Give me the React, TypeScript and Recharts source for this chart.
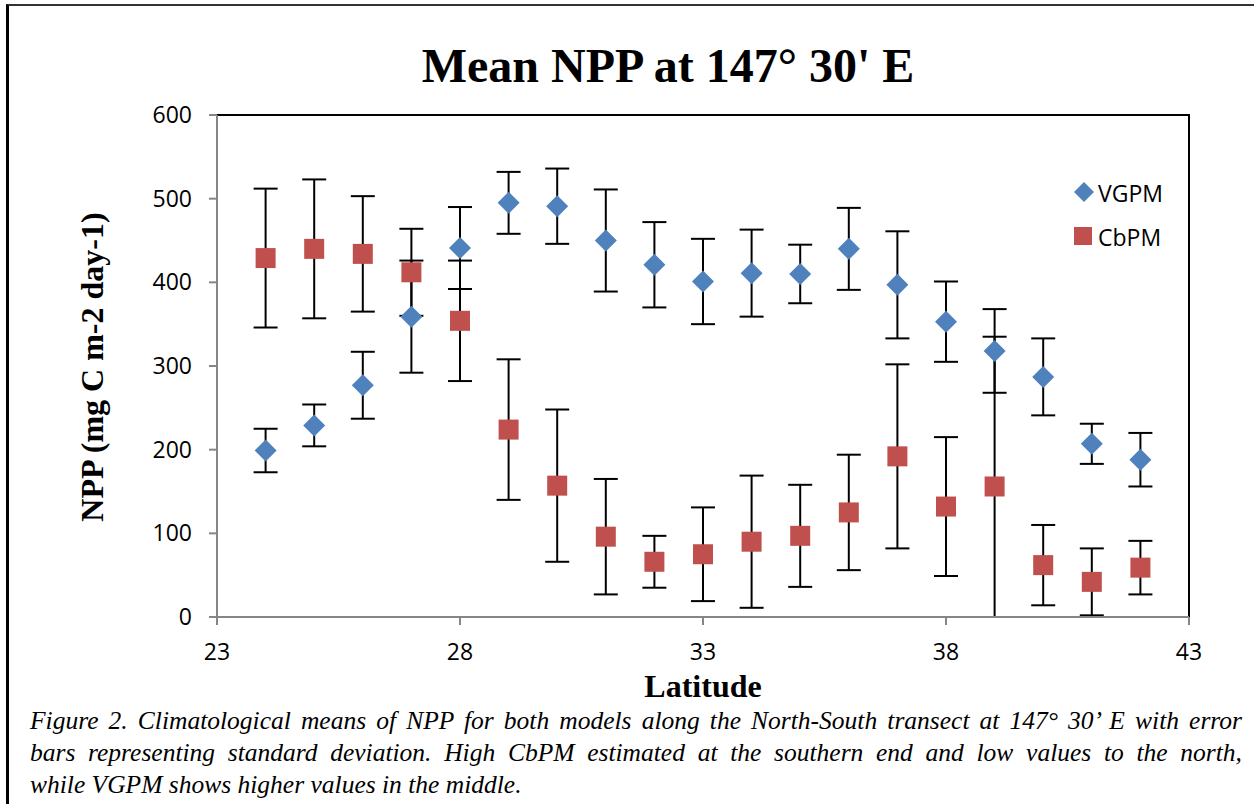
import { ErrorBar, Legend, ReferenceArea, Scatter, ScatterChart, XAxis, YAxis } from 'recharts'

const LATITUDES = [24, 25, 26, 27, 28, 29, 30, 31, 32, 33, 34, 35, 36, 37, 38, 39, 40, 41, 42]
const VGPM_MEAN = [199, 229, 277, 359, 441, 495, 491, 450, 421, 401, 411, 410, 440, 397, 353, 318, 287, 207, 188]
const VGPM_SD = [26, 25, 40, 67, 49, 37, 45, 61, 51, 51, 52, 35, 49, 64, 48, 50, 46, 24, 32]
const CBPM_MEAN = [429, 440, 434, 412, 354, 224, 157, 96, 66, 75, 90, 97, 125, 192, 132, 156, 62, 42, 59]
const CBPM_SD = [83, 83, 69, 52, 72, 84, 91, 69, 31, 56, 79, 61, 69, 110, 83, 179, 48, 40, 32]

const X_TICKS = [23, 28, 33, 38, 43]
const Y_TICKS = [0, 100, 200, 300, 400, 500, 600]

const BLUE = '#4f81bd'
const RED = '#c0504d'
const AXIS_GRAY = '#868686'
const TICK_FONT = { fontFamily: '"Open Sans", sans-serif', fontSize: 23, fill: '#000' }

// lower whisker stops at the axis, like the original (Excel clips it at 0)
const vgpmData = LATITUDES.map((lat, i) => ({
  lat,
  npp: VGPM_MEAN[i],
  err: [Math.min(VGPM_SD[i], VGPM_MEAN[i]), VGPM_SD[i]],
}))
const cbpmData = LATITUDES.map((lat, i) => ({
  lat,
  npp: CBPM_MEAN[i],
  err: [Math.min(CBPM_SD[i], CBPM_MEAN[i]), CBPM_SD[i]],
}))

const Diamond = (props: any) => {
  const { cx, cy } = props
  const r = 11
  return (
    <path
      d={`M${cx},${cy - r}L${cx + r},${cy}L${cx},${cy + r}L${cx - r},${cy}Z`}
      fill={BLUE}
    />
  )
}

const Square = (props: any) => {
  const { cx, cy } = props
  return <rect x={cx - 10} y={cy - 10} width={20} height={20} fill={RED} />
}

const renderLegend = () => (
  <div style={{ fontFamily: '"Open Sans", sans-serif', fontSize: 23, color: '#000' }}>
    <div style={{ display: 'flex', alignItems: 'center', height: 44 }}>
      <svg width={26} height={26}>
        <path d="M12,2L22,12L12,22L2,12Z" fill={BLUE} />
      </svg>
      <span>VGPM</span>
    </div>
    <div style={{ display: 'flex', alignItems: 'center', height: 44 }}>
      <svg width={26} height={26}>
        <rect x={2} y={3} width={18} height={18} fill={RED} />
      </svg>
      <span>CbPM</span>
    </div>
  </div>
)

export default function App() {
  return (
    <div style={{ position: 'absolute', left: 0, top: 0, width: 1254, height: 804, background: '#fff' }}>
      <div
        style={{
          position: 'absolute',
          left: 6,
          top: 4,
          width: 1248,
          height: 800,
          borderTop: '2px solid #333',
          borderLeft: '3px solid #000',
          boxSizing: 'border-box',
        }}
      />
      <ScatterChart
        width={1254}
        height={804}
        margin={{ top: 115, right: 65, bottom: 147, left: 157 }}
      >
        {/* plot-area frame: black top and right edges */}
        <ReferenceArea x1={23} x2={43} y1={0} y2={600} fill="none" stroke="#000" strokeWidth={2} />
        <XAxis
          type="number"
          dataKey="lat"
          domain={[23, 43]}
          ticks={X_TICKS}
          height={40}
          tick={TICK_FONT}
          tickSize={8}
          tickMargin={19}
          axisLine={{ stroke: AXIS_GRAY, strokeWidth: 2 }}
          tickLine={{ stroke: AXIS_GRAY, strokeWidth: 2 }}
        />
        <YAxis
          type="number"
          dataKey="npp"
          domain={[0, 600]}
          ticks={Y_TICKS}
          width={60}
          tick={TICK_FONT}
          tickSize={8}
          tickMargin={17}
          axisLine={{ stroke: AXIS_GRAY, strokeWidth: 2 }}
          tickLine={{ stroke: AXIS_GRAY, strokeWidth: 2 }}
        />
        <Legend
          layout="vertical"
          align="center"
          verticalAlign="middle"
          content={renderLegend}
          wrapperStyle={{ position: 'absolute', left: 1072, top: 171, width: 120 }}
        />
        <Scatter name="VGPM" data={vgpmData} shape={Diamond} fill={BLUE} isAnimationActive={false}>
          <ErrorBar dataKey="err" direction="y" width={12} strokeWidth={2} stroke="#000" />
        </Scatter>
        <Scatter name="CbPM" data={cbpmData} shape={Square} fill={RED} isAnimationActive={false}>
          <ErrorBar dataKey="err" direction="y" width={12} strokeWidth={2} stroke="#000" />
        </Scatter>
      </ScatterChart>
      <svg
        width={1254}
        height={804}
        style={{ position: 'absolute', left: 0, top: 0, pointerEvents: 'none' }}
      >
        <text
          x={668}
          y={82}
          textAnchor="middle"
          style={{ fontFamily: '"Liberation Serif", serif', fontWeight: 'bold', fontSize: 48 }}
        >
          Mean NPP at 147° 30' E
        </text>
        <text
          x={703}
          y={697}
          textAnchor="middle"
          style={{ fontFamily: '"Liberation Serif", serif', fontWeight: 'bold', fontSize: 32 }}
        >
          Latitude
        </text>
        <text
          transform="translate(103,367) rotate(-90)"
          textAnchor="middle"
          style={{ fontFamily: '"Liberation Serif", serif', fontWeight: 'bold', fontSize: 32 }}
        >
          NPP (mg C m-2 day-1)
        </text>
      </svg>
      <div
        style={{
          position: 'absolute',
          left: 30,
          top: 705,
          width: 1212,
          fontFamily: '"Liberation Serif", serif',
          fontStyle: 'italic',
          fontSize: 25.5,
          lineHeight: '32px',
          color: '#000',
        }}
      >
        <div style={{ textAlign: 'justify', textAlignLast: 'justify' }}>
          Figure 2. Climatological means of NPP for both models along the North-South transect at 147° 30’ E with error
        </div>
        <div style={{ textAlign: 'justify', textAlignLast: 'justify' }}>
          bars representing standard deviation. High CbPM estimated at the southern end and low values to the north,
        </div>
        <div>while VGPM shows higher values in the middle.</div>
      </div>
    </div>
  )
}
